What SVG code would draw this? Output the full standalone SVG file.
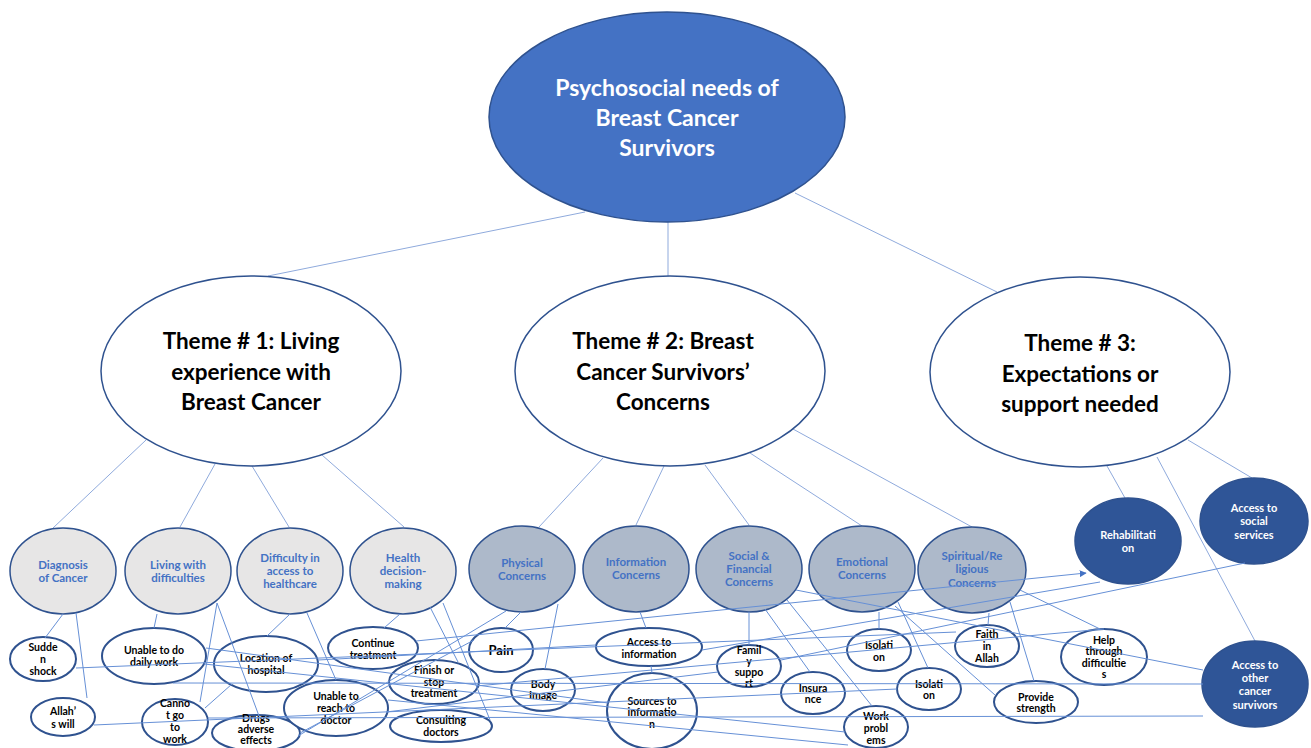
<svg xmlns="http://www.w3.org/2000/svg" width="1311" height="748" viewBox="0 0 1311 748">
  <defs>
    <marker id="arrow" viewBox="0 0 10 10" refX="9" refY="5" markerWidth="7" markerHeight="7" orient="auto">
      <path d="M0,0 L10,5 L0,10 z" fill="#4472C4"/>
    </marker>
  </defs>
  <style>
    text { font-family: Lato, "Open Sans", "Liberation Sans", sans-serif; font-weight: bold; text-anchor: middle; }
    .root { fill: #4472C4; stroke: #2F528F; stroke-width: 1.5; }
    .root-t { fill: #ffffff; font-size: 23px; }
    .theme { fill: #ffffff; stroke: #2F528F; stroke-width: 1.5; }
    .theme-t { fill: #000000; font-size: 22.5px; }
    .sub1 { fill: #E7E6E6; stroke: #2F528F; stroke-width: 1.5; }
    .sub2 { fill: #ADB9CA; stroke: #2F528F; stroke-width: 1.5; }
    .sub-t { fill: #4472C4; font-size: 11.5px; }
    .sub3 { fill: #2F5597; stroke: #2F528F; stroke-width: 1.5; }
    .sub3-t { fill: #ffffff; font-size: 11px; }
    .leaf { fill: #ffffff; stroke: #2F528F; stroke-width: 2; }
    .leaf-t { fill: #000000; font-size: 10.5px; }
    .tree line { stroke: #8FAADC; stroke-width: 1; }
    .cross line { stroke: #6690D6; stroke-width: 1; }
  </style>

  <rect width="1311" height="748" fill="#ffffff"/>

  <!-- hierarchy links -->
  <g id="connectors-tree" class="tree">
    <line x1="585" y1="212" x2="268" y2="276"/>
    <line x1="668" y1="222" x2="668" y2="276"/>
    <line x1="795" y1="193" x2="997" y2="292"/>
    <line x1="146" y1="440" x2="53" y2="528"/>
    <line x1="215" y1="464" x2="180" y2="527"/>
    <line x1="252" y1="466" x2="289" y2="527"/>
    <line x1="322" y1="455" x2="404" y2="527"/>
    <line x1="603" y1="458" x2="539" y2="527"/>
    <line x1="664" y1="466" x2="636" y2="525"/>
    <line x1="705" y1="465" x2="749" y2="525"/>
    <line x1="750" y1="453" x2="862" y2="526"/>
    <line x1="782" y1="423" x2="972" y2="527"/>
    <line x1="1107" y1="466" x2="1125" y2="498"/>
    <line x1="1188" y1="440" x2="1252" y2="478"/>
    <line x1="1157" y1="457" x2="1255" y2="641"/>
  </g>

  <!-- root -->
  <g id="root">
    <ellipse class="root" cx="667" cy="117" rx="178" ry="105"/>
    <text class="root-t" x="667" y="96">Psychosocial needs of</text>
    <text class="root-t" x="667" y="126">Breast Cancer</text>
    <text class="root-t" x="667" y="156">Survivors</text>
  </g>

  <!-- themes -->
  <g id="theme1">
    <ellipse class="theme" cx="251" cy="371" rx="150" ry="95"/>
    <text class="theme-t" x="251" y="349">Theme # 1: Living</text>
    <text class="theme-t" x="251" y="380">experience with</text>
    <text class="theme-t" x="251" y="410">Breast Cancer</text>
  </g>
  <g id="theme2">
    <ellipse class="theme" cx="670" cy="371" rx="155" ry="95"/>
    <text class="theme-t" x="663" y="349">Theme # 2: Breast</text>
    <text class="theme-t" x="663" y="380">Cancer Survivors’</text>
    <text class="theme-t" x="663" y="410">Concerns</text>
  </g>
  <g id="theme3">
    <ellipse class="theme" cx="1080" cy="372" rx="150" ry="95"/>
    <text class="theme-t" x="1080" y="351">Theme # 3:</text>
    <text class="theme-t" x="1080" y="382">Expectations or</text>
    <text class="theme-t" x="1080" y="412">support needed</text>
  </g>

  <!-- theme 1 sub-themes -->
  <g id="diagnosis">
    <ellipse class="sub1" cx="63" cy="571" rx="53" ry="43"/>
    <text class="sub-t" x="63" y="569">Diagnosis</text>
    <text class="sub-t" x="63" y="582">of Cancer</text>
  </g>
  <g id="living">
    <ellipse class="sub1" cx="178" cy="571" rx="53" ry="43"/>
    <text class="sub-t" x="178" y="569">Living with</text>
    <text class="sub-t" x="178" y="582">difficulties</text>
  </g>
  <g id="access-healthcare">
    <ellipse class="sub1" cx="290" cy="571" rx="53" ry="43"/>
    <text class="sub-t" x="290" y="562">Difficulty in</text>
    <text class="sub-t" x="290" y="575">access to</text>
    <text class="sub-t" x="290" y="588">healthcare</text>
  </g>
  <g id="decision">
    <ellipse class="sub1" cx="403" cy="571" rx="53" ry="43"/>
    <text class="sub-t" x="403" y="562">Health</text>
    <text class="sub-t" x="403" y="575">decision-</text>
    <text class="sub-t" x="403" y="588">making</text>
  </g>

  <!-- theme 2 sub-themes -->
  <g id="physical">
    <ellipse class="sub2" cx="522" cy="569" rx="53" ry="43"/>
    <text class="sub-t" x="522" y="567">Physical</text>
    <text class="sub-t" x="522" y="580">Concerns</text>
  </g>
  <g id="information">
    <ellipse class="sub2" cx="636" cy="569" rx="53" ry="43"/>
    <text class="sub-t" x="636" y="566">Information</text>
    <text class="sub-t" x="636" y="579">Concerns</text>
  </g>
  <g id="social-financial">
    <ellipse class="sub2" cx="749" cy="569" rx="53" ry="43"/>
    <text class="sub-t" x="749" y="560">Social &amp;</text>
    <text class="sub-t" x="749" y="573">Financial</text>
    <text class="sub-t" x="749" y="586">Concerns</text>
  </g>
  <g id="emotional">
    <ellipse class="sub2" cx="862" cy="569" rx="53" ry="43"/>
    <text class="sub-t" x="862" y="566">Emotional</text>
    <text class="sub-t" x="862" y="579">Concerns</text>
  </g>
  <g id="spiritual">
    <ellipse class="sub2" cx="972" cy="570" rx="54" ry="43"/>
    <text class="sub-t" x="972" y="560">Spiritual/Re</text>
    <text class="sub-t" x="972" y="573">ligious</text>
    <text class="sub-t" x="972" y="587">Concerns</text>
  </g>

  <!-- theme 3 sub-themes -->
  <g id="rehabilitation">
    <ellipse class="sub3" cx="1128" cy="541" rx="53" ry="43"/>
    <text class="sub3-t" x="1128" y="539">Rehabilitati</text>
    <text class="sub3-t" x="1128" y="552">on</text>
  </g>
  <g id="social-services">
    <ellipse class="sub3" cx="1254" cy="521" rx="54" ry="43"/>
    <text class="sub3-t" x="1254" y="512">Access to</text>
    <text class="sub3-t" x="1254" y="525">social</text>
    <text class="sub3-t" x="1254" y="539">services</text>
  </g>
  <g id="other-survivors">
    <ellipse class="sub3" cx="1255" cy="684" rx="53" ry="43"/>
    <text class="sub3-t" x="1255" y="669">Access to</text>
    <text class="sub3-t" x="1255" y="682">other</text>
    <text class="sub3-t" x="1255" y="695">cancer</text>
    <text class="sub3-t" x="1255" y="709">survivors</text>
  </g>

  <!-- leaf codes -->
  <g id="sudden-shock">
    <ellipse class="leaf" cx="43" cy="659" rx="33" ry="22"/>
    <text class="leaf-t" x="43" y="651">Sudde</text>
    <text class="leaf-t" x="43" y="663">n</text>
    <text class="leaf-t" x="43" y="675">shock</text>
  </g>
  <g id="allahs-will">
    <ellipse class="leaf" cx="63" cy="717" rx="32" ry="19"/>
    <text class="leaf-t" x="63" y="715">Allah’</text>
    <text class="leaf-t" x="63" y="728">s will</text>
  </g>
  <g id="daily-work">
    <ellipse class="leaf" cx="154" cy="656" rx="52" ry="28"/>
    <text class="leaf-t" x="154" y="654">Unable to do</text>
    <text class="leaf-t" x="154" y="666">daily work</text>
  </g>
  <g id="location">
    <ellipse class="leaf" cx="266" cy="664" rx="52" ry="28"/>
    <text class="leaf-t" x="266" y="662">Location of</text>
    <text class="leaf-t" x="266" y="674">hospital</text>
  </g>
  <g id="cannot-work">
    <ellipse class="leaf" cx="175" cy="722" rx="33" ry="23"/>
    <text class="leaf-t" x="175" y="707">Canno</text>
    <text class="leaf-t" x="175" y="719">t go</text>
    <text class="leaf-t" x="175" y="731">to</text>
    <text class="leaf-t" x="175" y="743">work</text>
  </g>
  <g id="drugs">
    <ellipse class="leaf" cx="256" cy="733" rx="44" ry="18"/>
    <text class="leaf-t" x="256" y="722">Drugs</text>
    <text class="leaf-t" x="256" y="733">adverse</text>
    <text class="leaf-t" x="256" y="744">effects</text>
  </g>
  <g id="reach-doctor">
    <ellipse class="leaf" cx="336" cy="708" rx="52" ry="28"/>
    <text class="leaf-t" x="336" y="700">Unable to</text>
    <text class="leaf-t" x="336" y="712">reach to</text>
    <text class="leaf-t" x="336" y="724">doctor</text>
  </g>
  <g id="continue">
    <ellipse class="leaf" cx="373" cy="648" rx="45" ry="21"/>
    <text class="leaf-t" x="373" y="647">Continue</text>
    <text class="leaf-t" x="373" y="659">treatment</text>
  </g>
  <g id="finish">
    <ellipse class="leaf" cx="434" cy="682" rx="45" ry="22"/>
    <text class="leaf-t" x="434" y="674">Finish or</text>
    <text class="leaf-t" x="434" y="686">stop</text>
    <text class="leaf-t" x="434" y="697">treatment</text>
  </g>
  <g id="consulting">
    <ellipse class="leaf" cx="441" cy="726" rx="51" ry="16"/>
    <text class="leaf-t" x="441" y="724">Consulting</text>
    <text class="leaf-t" x="441" y="736">doctors</text>
  </g>
  <g id="pain">
    <ellipse class="leaf" cx="501" cy="650" rx="32" ry="22"/>
    <text class="leaf-t" x="501" y="655" style="font-size:13px">Pain</text>
  </g>
  <g id="body-image">
    <ellipse class="leaf" cx="543" cy="690" rx="32" ry="21"/>
    <text class="leaf-t" x="543" y="688">Body</text>
    <text class="leaf-t" x="543" y="699">Image</text>
  </g>
  <g id="access-info">
    <ellipse class="leaf" cx="649" cy="647" rx="53" ry="19"/>
    <text class="leaf-t" x="649" y="646">Access to</text>
    <text class="leaf-t" x="649" y="658">information</text>
  </g>
  <g id="sources-info">
    <ellipse class="leaf" cx="652" cy="711" rx="45" ry="38"/>
    <text class="leaf-t" x="652" y="705">Sources to</text>
    <text class="leaf-t" x="652" y="716">informatio</text>
    <text class="leaf-t" x="652" y="728">n</text>
  </g>
  <g id="family-support">
    <ellipse class="leaf" cx="749" cy="666" rx="32" ry="21"/>
    <text class="leaf-t" x="749" y="654">Famil</text>
    <text class="leaf-t" x="749" y="665">y</text>
    <text class="leaf-t" x="749" y="676">suppo</text>
    <text class="leaf-t" x="749" y="687">rt</text>
  </g>
  <g id="insurance">
    <ellipse class="leaf" cx="813" cy="693" rx="32" ry="21"/>
    <text class="leaf-t" x="813" y="692">Insura</text>
    <text class="leaf-t" x="813" y="703">nce</text>
  </g>
  <g id="work-problems">
    <ellipse class="leaf" cx="876" cy="727" rx="32" ry="21"/>
    <text class="leaf-t" x="876" y="720">Work</text>
    <text class="leaf-t" x="876" y="732">probl</text>
    <text class="leaf-t" x="876" y="744">ems</text>
  </g>
  <g id="isolation-1">
    <ellipse class="leaf" cx="879" cy="650" rx="32" ry="21"/>
    <text class="leaf-t" x="879" y="649">Isolati</text>
    <text class="leaf-t" x="879" y="661">on</text>
  </g>
  <g id="isolation-2">
    <ellipse class="leaf" cx="929" cy="689" rx="32" ry="21"/>
    <text class="leaf-t" x="929" y="688">Isolati</text>
    <text class="leaf-t" x="929" y="699">on</text>
  </g>
  <g id="faith">
    <ellipse class="leaf" cx="987" cy="646" rx="32" ry="21"/>
    <text class="leaf-t" x="987" y="638">Faith</text>
    <text class="leaf-t" x="987" y="650">in</text>
    <text class="leaf-t" x="987" y="662">Allah</text>
  </g>
  <g id="provide-strength">
    <ellipse class="leaf" cx="1036" cy="702" rx="42" ry="21"/>
    <text class="leaf-t" x="1036" y="701">Provide</text>
    <text class="leaf-t" x="1036" y="712">strength</text>
  </g>
  <g id="help-difficulties">
    <ellipse class="leaf" cx="1104" cy="657" rx="43" ry="28"/>
    <text class="leaf-t" x="1104" y="644">Help</text>
    <text class="leaf-t" x="1104" y="655">through</text>
    <text class="leaf-t" x="1104" y="667">difficultie</text>
    <text class="leaf-t" x="1104" y="678">s</text>
  </g>

  <!-- sub-theme to code links and cross links -->
  <g id="connectors" class="cross">
    <line x1="63" y1="614" x2="45" y2="638"/>
    <line x1="76" y1="613" x2="87" y2="698"/>
    <line x1="157" y1="614" x2="154" y2="628"/>
    <line x1="217" y1="603" x2="200" y2="702"/>
    <line x1="217" y1="603" x2="259" y2="716"/>
    <line x1="290" y1="614" x2="267" y2="636"/>
    <line x1="307" y1="613" x2="336" y2="680"/>
    <line x1="400" y1="614" x2="384" y2="628"/>
    <line x1="430" y1="607" x2="458" y2="662"/>
    <line x1="443" y1="603" x2="490" y2="720"/>
    <line x1="521" y1="612" x2="505" y2="628"/>
    <line x1="558" y1="604" x2="545" y2="669"/>
    <line x1="640" y1="612" x2="646" y2="628"/>
    <line x1="651" y1="666" x2="652" y2="673"/>
    <line x1="749" y1="612" x2="749" y2="645"/>
    <line x1="765" y1="609" x2="810" y2="672"/>
    <line x1="787" y1="600" x2="872" y2="706"/>
    <line x1="879" y1="612" x2="879" y2="629"/>
    <line x1="898" y1="602" x2="928" y2="668"/>
    <line x1="989" y1="613" x2="988" y2="625"/>
    <line x1="1010" y1="602" x2="1034" y2="681"/>
    <line x1="1020" y1="590" x2="1100" y2="629"/>

    <line x1="76" y1="668" x2="956" y2="632"/>
    <line x1="416" y1="641" x2="1086" y2="573" marker-end="url(#arrow)"/>
    <line x1="173" y1="683" x2="1203" y2="684"/>
    <line x1="208" y1="718" x2="1203" y2="716"/>
    <line x1="94" y1="725" x2="897" y2="689"/>
    <line x1="206" y1="648" x2="608" y2="703"/>
    <line x1="204" y1="664" x2="845" y2="732"/>
    <line x1="298" y1="736" x2="506" y2="611"/>
    <line x1="300" y1="733" x2="474" y2="640"/>
    <line x1="1245" y1="563" x2="781" y2="660"/>
    <line x1="1100" y1="582" x2="702" y2="650"/>
    <line x1="205" y1="708" x2="232" y2="684"/>
    <line x1="895" y1="606" x2="995" y2="695"/>
    <line x1="796" y1="590" x2="1203" y2="670"/>
    <line x1="386" y1="712" x2="718" y2="672"/>
    <line x1="318" y1="660" x2="596" y2="645"/>
    <line x1="476" y1="686" x2="1104" y2="629"/>
    <line x1="388" y1="700" x2="848" y2="745"/>
  </g>
</svg>
